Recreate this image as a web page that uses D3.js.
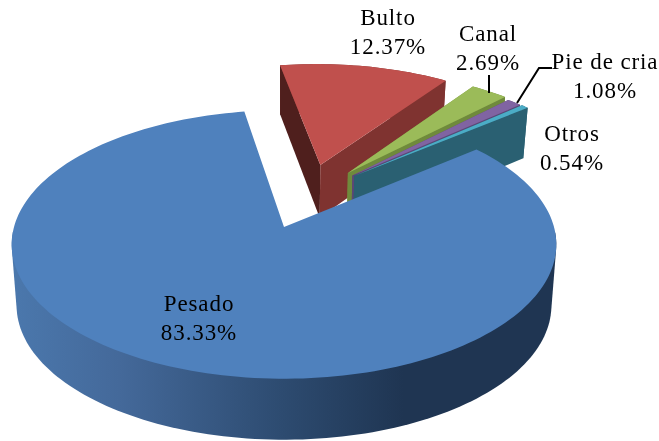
<!DOCTYPE html>
<html>
<head>
<meta charset="utf-8">
<style>
  html, body { margin: 0; padding: 0; background: #fff; }
  svg { display: block; filter: blur(0.45px); }
  text { font-family: "Liberation Serif", serif; font-size: 23px; fill: #000; letter-spacing: 0.9px; text-anchor: middle; }
</style>
<script src="https://cdn.jsdelivr.net/npm/d3@7"></script>
</head>
<body>
<script>
const categories = ["Pesado", "Bulto", "Canal", "Pie de cria", "Otros"];
const values = [83.33, 12.37, 2.69, 1.08, 0.54];
const valueLabels = ["83.33%", "12.37%", "2.69%", "1.08%", "0.54%"];

const topColors = ["#4f81bd", "#c0504d", "#9bbb59", "#8064a2", "#4bacc6"];
const startCutColors = ["#2f4d72", "#4f1f1d", "#76923c", "#5c4776", "#2a6072"];
const endCutColors = ["#2f4d72", "#7f3330", "#6f8a3c", "#5c4776", "#2a6072"];

// how far each slice is pulled out, and in which direction (degrees from the top)
const explodeBy = [0, 0.52, 0.5, 0.49, 0.49];
const explodeDir = [0, 16, 30, 33, 34];
const sliceRadius = [1, 0.97, 0.98, 0.97, 0.97];

// label anchors [x, first baseline]
const labelPos = [[199, 311], [388, 25], [488, 41], [605, 69], [572, 141]];

const width = 659, height = 441;
const cx = 284, cy = 227, rx = 270, ry = 132, persp = 0.13;
const rad = (d) => d * Math.PI / 180;

const svg = d3.select("body").append("svg").attr("width", width).attr("height", height);
const line = d3.line();

// plane coordinates to screen, far side comes out smaller
function project(u, v, lower, i) {
  const s = 1 / (1 + persp * v);
  const x = rx * u * s, y = -ry * v * s;
  if (!lower) return [cx + x, cy + y];
  const drop = i === 0 ? 61 : 16 + 39 * s;
  return [cx + x * 0.982, cy + y + drop];
}

const defs = svg.append("defs");
const wallGrad = defs.append("linearGradient").attr("id", "wall-grad")
  .attr("gradientUnits", "userSpaceOnUse")
  .attr("x1", 10).attr("x2", 556).attr("y1", 0).attr("y2", 0);
[[0, "#4b78ad"], [0.2, "#44699a"], [0.5, "#2d4b70"], [0.72, "#1f3552"], [1, "#1f3552"]].forEach((d) => {
  wallGrad.append("stop").attr("offset", d[0]).attr("stop-color", d[1]);
});

const slices = d3.pie().sort(null)
  .startAngle(rad(50.5)).endAngle(rad(50.5 + 360))(values);

function sliceGeometry(d, i) {
  const ox = explodeBy[i] * Math.sin(rad(explodeDir[i]));
  const oy = explodeBy[i] * Math.cos(rad(explodeDir[i]));
  const r = sliceRadius[i];
  const steps = Math.max(4, Math.ceil((d.endAngle - d.startAngle) / rad(1.5)));
  const angles = d3.range(steps + 1).map((k) => d.startAngle + (d.endAngle - d.startAngle) * k / steps);
  const rim = angles.map((a) => [ox + r * Math.sin(a), oy + r * Math.cos(a)]);
  return { apex: [ox, oy], rim: rim };
}

function drawSlice(i) {
  const g = sliceGeometry(slices[i], i);
  const group = svg.append("g").attr("class", "slice");
  const at = (p, lower) => project(p[0], p[1], lower, i);
  const first = g.rim[0], last = g.rim[g.rim.length - 1];
  const wallTop = g.rim.map((p) => at(p));

  if (i === 0) {
    // hull of the front part of the rim, top and bottom, so the sides run straight down
    const front = g.rim.filter((p) => p[1] < -0.02);
    const hull = d3.polygonHull(front.map((p) => at(p)).concat(front.map((p) => at(p, true))));
    group.append("path")
      .attr("d", line(hull) + "Z")
      .attr("fill", "url(#wall-grad)");
  } else {
    group.append("path")
      .attr("d", line(wallTop.concat(g.rim.map((p) => at(p, true)).reverse())) + "Z")
      .attr("fill", endCutColors[i]);
    group.append("path")
      .attr("d", line([at(g.apex), at(first), at(first, true), at(g.apex, true)]) + "Z")
      .attr("fill", startCutColors[i]);
    group.append("path")
      .attr("d", line([at(g.apex), at(last), at(last, true), at(g.apex, true)]) + "Z")
      .attr("fill", endCutColors[i]);
  }

  group.append("path")
    .attr("d", line([at(g.apex)].concat(wallTop)) + "Z")
    .attr("fill", topColors[i]);
}

// back slices first, the big one last
[1, 2, 3, 4, 0].forEach(drawSlice);

// leader lines
const leaders = [[[489, 75], [489, 93]], [[552, 68], [539, 68], [517, 103]]];
svg.selectAll("path.leader").data(leaders).join("path")
  .attr("class", "leader")
  .attr("d", (d) => line(d))
  .attr("fill", "none")
  .attr("stroke", "#000")
  .attr("stroke-width", 2);

categories.forEach((name, i) => {
  const t = svg.append("text").attr("x", labelPos[i][0]).attr("y", labelPos[i][1]);
  t.append("tspan").attr("x", labelPos[i][0]).text(name);
  t.append("tspan").attr("x", labelPos[i][0]).attr("dy", 29).text(valueLabels[i]);
});
</script>
</body>
</html>
